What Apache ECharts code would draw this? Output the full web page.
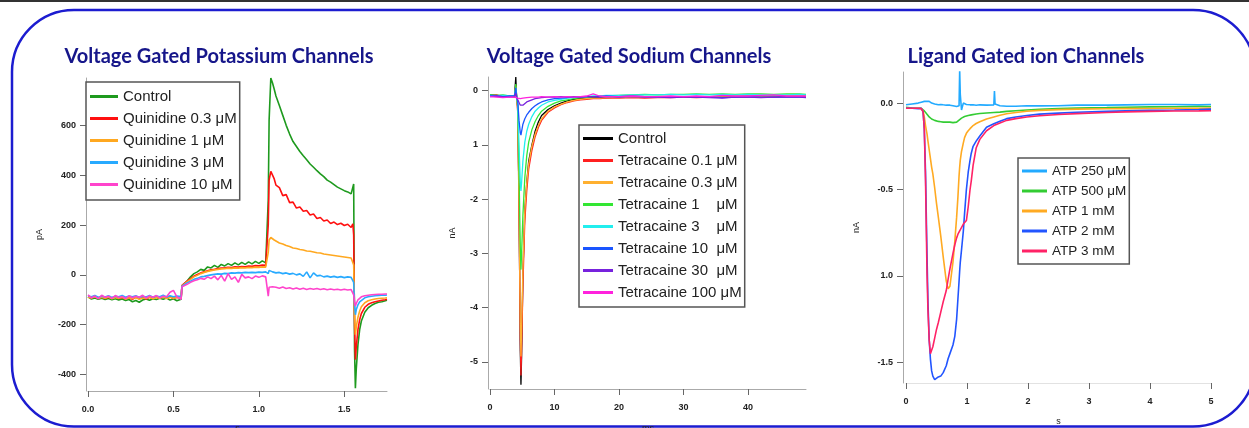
<!DOCTYPE html>
<html><head><meta charset="utf-8">
<script src="https://cdn.jsdelivr.net/npm/echarts@6/dist/echarts.min.js"></script>
<style>html,body{margin:0;padding:0;background:#fff}#c{width:1249px;height:428px}</style>
</head><body><div id="c"></div>
<script>
// ---------- Panel 1: Voltage gated potassium channels (pA vs s) ----------
const kTime = [0,0.02,0.04,0.06,0.08,0.10,0.12,0.14,0.16,0.18,0.20,0.22,0.24,0.26,0.28,0.30,0.32,0.34,0.36,0.38,0.40,0.42,0.44,0.46,0.48,0.50,0.52,0.545,
  0.55,0.56,0.58,0.60,0.62,0.64,0.66,0.68,0.70,0.72,0.74,0.76,0.78,0.80,0.82,0.84,0.86,0.88,0.90,0.92,0.94,0.96,0.98,1.00,1.02,1.04,1.05,
  1.055,1.06,1.07,1.08,1.09,1.10,1.12,1.14,1.16,1.18,1.20,1.22,1.24,1.26,1.28,1.30,1.32,1.34,1.36,1.38,1.40,1.42,1.44,1.46,1.48,1.50,1.52,1.54,1.55,
  1.555,1.56,1.565,1.57,1.58,1.59,1.60,1.62,1.64,1.66,1.68,1.70,1.72,1.74,1.75];
const kControl = [-88,-97,-93,-98,-94,-99,-95,-100,-96,-101,-97,-103,-99,-108,-103,-110,-101,-97,-102,-96,-99,-94,-98,-93,-101,-96,-104,-98,
  -45,-38,-25,-8,5,12,22,18,32,28,38,30,42,36,45,38,48,40,50,42,52,44,54,46,56,48,52,
  300,620,790,770,745,718,680,640,600,565,535,515,495,478,462,445,432,418,405,394,380,372,362,352,345,338,333,325,320,
  365,-300,-455,-380,-280,-220,-185,-150,-132,-122,-115,-110,-108,-104,-102];
const kQ03 = [-88,-92,-86,-94,-89,-95,-90,-93,-87,-95,-91,-96,-92,-98,-90,-96,-92,-97,-90,-95,-89,-94,-88,-93,-87,-95,-90,-93,
  -42,-36,-25,-15,-5,2,8,12,16,20,22,25,27,28,30,29,32,31,33,32,35,34,37,36,39,38,40,
  200,380,415,400,385,360,350,318,322,290,292,268,272,255,258,240,244,226,230,216,220,206,212,202,207,198,203,190,205,
  160,-200,-340,-290,-220,-180,-155,-130,-118,-112,-108,-105,-102,-100,-98];
const kQ1 = [-90,-93,-88,-95,-90,-94,-89,-96,-91,-94,-89,-97,-92,-96,-91,-98,-93,-95,-90,-96,-91,-94,-89,-95,-90,-94,-91,-92,
  -44,-38,-28,-18,-8,-2,5,10,14,17,20,22,24,25,27,26,28,27,29,28,30,29,31,30,32,31,33,
  90,140,150,145,140,134,128,124,118,114,108,106,102,100,96,95,92,89,88,84,82,80,78,76,74,72,70,68,67,
  40,-150,-240,-210,-170,-145,-128,-112,-104,-100,-97,-95,-94,-93,-92];
const kQ3 = [-85,-88,-83,-90,-86,-89,-84,-91,-86,-88,-83,-90,-85,-88,-84,-91,-86,-89,-83,-90,-85,-88,-82,-89,-84,-88,-85,-87,
  -45,-42,-32,-25,-18,-14,-8,-6,-3,0,2,4,3,6,5,8,7,9,8,10,9,10,9,11,10,12,10,
  5,18,15,12,14,8,10,5,8,3,6,0,4,-6,12,-12,8,-4,-2,-8,-5,-9,-6,-10,-7,-11,-8,-10,-9,
  -30,-120,-160,-140,-120,-108,-100,-92,-88,-86,-84,-83,-82,-82,-81];
const kQ10 = [-80,-92,-85,-95,-82,-90,-86,-94,-83,-91,-87,-95,-84,-92,-86,-90,-82,-93,-85,-90,-83,-92,-86,-88,-70,-62,-88,-98,
  -48,-45,-38,-30,-24,-20,-14,-18,-8,-15,-5,-20,-2,-25,5,-18,-8,-30,2,-12,-8,-15,-5,-10,-4,-8,-6,
  -85,-50,-55,-48,-56,-50,-54,-49,-55,-52,-57,-53,-58,-54,-59,-55,-58,-55,-59,-56,-60,-57,-60,-58,-61,-58,-61,-59,-60,
  -80,-110,-125,-115,-100,-92,-88,-84,-82,-80,-79,-78,-78,-77,-77];
const kNames = ['Control','Quinidine 0.3 μM','Quinidine 1 μM','Quinidine 3 μM','Quinidine 10 μM'];
const kXTicks = [0,0.5,1,1.5];
const kXTickLabels = ['0.0','0.5','1.0','1.5'];
const kYTicks = [-400,-200,0,200,400,600];
const kYTickLabels = ['-400','-200','0','200','400','600'];

// ---------- Panel 2: Voltage gated sodium channels (nA vs ms) ----------
const naTime = [0,1,2,3,3.8,4.0,4.1,4.3,4.5,4.7,4.8,4.9,5.1,5.4,5.7,6.0,6.5,7.0,7.5,8.0,9,10,11,12,13,14,15,16,17,18,20,22,24,26,28,30,32,34,36,38,40,42,44,46,48,49];
const naControl = [-0.08,-0.09,-0.1,-0.1,-0.1,0.25,-0.05,-0.3,-2.0,-4.8,-5.42,-4.9,-3.4,-2.2,-1.7,-1.3,-1.0,-0.75,-0.58,-0.46,-0.35,-0.28,-0.23,-0.19,-0.16,-0.15,-0.14,-0.13,-0.13,-0.13,-0.12,-0.12,-0.12,-0.12,-0.11,-0.11,-0.12,-0.11,-0.11,-0.11,-0.1,-0.11,-0.1,-0.1,-0.1,-0.1];
const naT01 = [-0.1,-0.08,-0.12,-0.1,-0.12,0.1,-0.1,-0.4,-2.2,-4.6,-5.25,-4.8,-3.6,-2.4,-1.85,-1.45,-1.1,-0.85,-0.68,-0.55,-0.4,-0.32,-0.26,-0.22,-0.19,-0.17,-0.16,-0.15,-0.15,-0.14,-0.14,-0.13,-0.14,-0.13,-0.13,-0.12,-0.13,-0.12,-0.12,-0.12,-0.12,-0.11,-0.12,-0.11,-0.11,-0.11];
const naT03 = [-0.1,-0.1,-0.11,-0.1,-0.11,0.08,-0.08,-0.35,-2.0,-4.3,-4.9,-4.4,-3.3,-2.2,-1.7,-1.35,-1.02,-0.8,-0.64,-0.52,-0.38,-0.3,-0.25,-0.21,-0.18,-0.16,-0.15,-0.14,-0.14,-0.13,-0.13,-0.12,-0.12,-0.12,-0.11,-0.11,-0.11,-0.11,-0.1,-0.1,-0.1,-0.1,-0.1,-0.09,-0.09,-0.09];
const naT1 = [-0.08,-0.09,-0.08,-0.1,-0.09,0.12,-0.06,-0.3,-1.5,-2.9,-3.3,-3.0,-2.3,-1.6,-1.2,-0.95,-0.72,-0.57,-0.46,-0.38,-0.29,-0.23,-0.19,-0.17,-0.15,-0.13,-0.12,-0.11,-0.1,-0.1,-0.09,-0.08,-0.07,-0.08,-0.07,-0.07,-0.06,-0.07,-0.06,-0.07,-0.06,-0.06,-0.07,-0.06,-0.06,-0.07];
const naT3 = [-0.09,-0.1,-0.09,-0.1,-0.1,0.05,-0.08,-0.25,-1.0,-1.7,-1.85,-1.7,-1.3,-0.95,-0.75,-0.62,-0.48,-0.38,-0.32,-0.27,-0.21,-0.18,-0.16,-0.14,-0.13,-0.12,-0.11,-0.1,-0.1,-0.09,-0.09,-0.08,-0.08,-0.08,-0.07,-0.08,-0.07,-0.08,-0.07,-0.08,-0.07,-0.08,-0.08,-0.08,-0.07,-0.08];
const naT10 = [-0.1,-0.1,-0.11,-0.1,-0.1,0.05,-0.1,-0.2,-0.55,-0.78,-0.82,-0.75,-0.62,-0.52,-0.45,-0.4,-0.33,-0.28,-0.24,-0.21,-0.17,-0.15,-0.14,-0.13,-0.12,-0.12,-0.11,-0.11,-0.11,-0.1,-0.11,-0.1,-0.11,-0.12,-0.11,-0.11,-0.12,-0.11,-0.13,-0.12,-0.11,-0.12,-0.12,-0.12,-0.12,-0.12];
const naT30 = [-0.11,-0.1,-0.11,-0.12,-0.11,-0.05,-0.12,-0.15,-0.22,-0.27,-0.28,-0.28,-0.27,-0.24,-0.21,-0.19,-0.17,-0.15,-0.14,-0.13,-0.12,-0.12,-0.11,-0.12,-0.11,-0.12,-0.11,-0.11,-0.12,-0.11,-0.12,-0.11,-0.12,-0.12,-0.13,-0.12,-0.12,-0.13,-0.14,-0.12,-0.12,-0.13,-0.12,-0.12,-0.12,-0.13];
const naT100 = [-0.11,-0.12,-0.13,-0.12,-0.12,-0.1,-0.12,-0.14,-0.15,-0.15,-0.15,-0.14,-0.14,-0.13,-0.13,-0.12,-0.12,-0.12,-0.12,-0.11,-0.12,-0.11,-0.12,-0.11,-0.12,-0.11,-0.1,-0.06,-0.1,-0.11,-0.11,-0.1,-0.11,-0.11,-0.1,-0.11,-0.1,-0.11,-0.09,-0.1,-0.1,-0.09,-0.08,-0.1,-0.1,-0.1];
const naNames = ['Control','Tetracaine 0.1 μM','Tetracaine 0.3 μM','Tetracaine 1    μM','Tetracaine 3    μM','Tetracaine 10  μM','Tetracaine 30  μM','Tetracaine 100 μM'];
const naXTicks = [0,10,20,30,40];
const naXTickLabels = ['0','10','20','30','40'];
const naYTicks = [0,-1,-2,-3,-4,-5];
const naYTickLabels = ['0','1','-2','-3','-4','-5'];

// ---------- Panel 3: Ligand gated ion channels (nA vs s) ----------
const lgTime = [0,0.1,0.2,0.25,0.28,0.3,0.32,0.345,0.36,0.38,0.4,0.42,0.44,0.47,0.5,0.53,0.57,0.61,0.66,0.69,0.72,0.77,0.8,0.83,0.85,0.87,0.88,0.89,0.91,0.94,0.96,0.99,1.02,1.05,1.07,1.1,1.15,1.21,1.32,1.44,1.45,1.46,1.54,1.65,1.8,1.98,2.19,2.5,2.8,3.29,3.6,4.0,4.4,4.8,5.0];
const lgATP250 = [-0.01,-0.005,0,0.005,0.01,0.01,0.008,0.01,0.008,0.01,0.005,0,-0.005,-0.005,-0.008,-0.01,-0.008,-0.01,-0.012,-0.01,-0.012,-0.015,-0.018,-0.02,-0.02,-0.015,0.19,0.05,-0.04,0,-0.005,-0.008,-0.005,-0.01,-0.008,-0.01,-0.012,-0.01,-0.012,-0.01,0.07,-0.005,-0.015,-0.018,-0.018,-0.015,-0.016,-0.015,-0.012,-0.012,-0.01,-0.008,-0.008,-0.01,-0.008];
const lgATP500 = [-0.025,-0.028,-0.03,-0.03,-0.035,-0.045,-0.055,-0.065,-0.072,-0.08,-0.087,-0.092,-0.096,-0.1,-0.104,-0.106,-0.108,-0.11,-0.11,-0.112,-0.11,-0.113,-0.112,-0.11,-0.104,-0.098,-0.095,-0.092,-0.087,-0.082,-0.078,-0.075,-0.072,-0.07,-0.068,-0.066,-0.063,-0.06,-0.057,-0.054,-0.054,-0.053,-0.052,-0.048,-0.044,-0.04,-0.036,-0.032,-0.029,-0.026,-0.024,-0.022,-0.021,-0.02,-0.02];
const lgATP1m = [-0.03,-0.03,-0.03,-0.032,-0.045,-0.08,-0.13,-0.18,-0.22,-0.27,-0.32,-0.37,-0.41,-0.49,-0.58,-0.66,-0.77,-0.89,-1.03,-1.075,-1.06,-0.92,-0.8,-0.66,-0.55,-0.42,-0.37,-0.33,-0.28,-0.23,-0.2,-0.175,-0.16,-0.148,-0.14,-0.13,-0.118,-0.108,-0.092,-0.08,-0.079,-0.078,-0.07,-0.062,-0.054,-0.047,-0.042,-0.038,-0.035,-0.033,-0.032,-0.031,-0.03,-0.03,-0.029];
const lgATP2m = [-0.03,-0.03,-0.032,-0.03,-0.05,-0.15,-0.4,-0.89,-1.15,-1.37,-1.48,-1.55,-1.58,-1.6,-1.6,-1.585,-1.58,-1.56,-1.52,-1.48,-1.45,-1.4,-1.35,-1.25,-1.14,-1.03,-0.97,-0.92,-0.85,-0.74,-0.64,-0.5,-0.4,-0.33,-0.29,-0.25,-0.22,-0.19,-0.14,-0.12,-0.118,-0.117,-0.105,-0.09,-0.08,-0.072,-0.064,-0.058,-0.053,-0.048,-0.045,-0.042,-0.04,-0.037,-0.035];
const lgATP3m = [-0.03,-0.03,-0.03,-0.032,-0.05,-0.15,-0.45,-0.99,-1.2,-1.37,-1.45,-1.44,-1.41,-1.36,-1.31,-1.27,-1.21,-1.15,-1.085,-1.02,-0.96,-0.87,-0.82,-0.78,-0.76,-0.75,-0.74,-0.73,-0.72,-0.7,-0.69,-0.68,-0.6,-0.5,-0.45,-0.36,-0.26,-0.21,-0.16,-0.13,-0.128,-0.127,-0.115,-0.1,-0.09,-0.08,-0.073,-0.066,-0.061,-0.054,-0.051,-0.048,-0.046,-0.045,-0.044];
const lgNames = ['ATP 250 μM','ATP 500 μM','ATP 1 mM','ATP 2 mM','ATP 3 mM'];
const lgXTicks = [0,1,2,3,4,5];
const lgXTickLabels = ['0','1','2','3','4','5'];
const lgYTicks = [0,-0.5,-1,-1.5];
const lgYTickLabels = ['0.0','-0.5','1.0','-1.5'];

// ---------- styles ----------
const kColors = ['#1e9a1e','#ff1010','#ffa820','#28aaff','#ff44cc'];
const naColors = ['#000000','#ff2020','#ffb030','#33e633','#22eeee','#1a55ff','#7722dd','#ff22dd'];
const lgColors = ['#22aaff','#33cc33','#ffaa22','#2255ff','#ff2266'];
const TITLE_COLOR = '#16168a';

function zip(t, v) { return t.map((x, i) => [x, v[i]]); }
function tickFmt(vals, labels) {
  return function (v) { const i = vals.findIndex(a => Math.abs(a - v) < 1e-9); return i >= 0 ? labels[i] : ''; };
}
const LBL = { fontSize: 9, fontWeight: 'bold', color: '#222', fontFamily: 'Liberation Sans' };
const NAME = { fontSize: 9, color: '#222', fontFamily: 'Liberation Sans' };

function mkX(grid, min, max, ticks, labels, name, gap, lineColor) {
  return {
    type: 'value', gridIndex: grid, min: min, max: max,
    axisLine: { show: true, onZero: false, lineStyle: { color: lineColor, width: 1 } },
    axisTick: { show: true, length: 6, customValues: ticks, lineStyle: { color: '#666' } },
    axisLabel: Object.assign({ customValues: ticks, margin: 14, formatter: tickFmt(ticks, labels) }, LBL),
    splitLine: { show: false },
    name: name, nameLocation: 'middle', nameGap: gap, nameTextStyle: NAME
  };
}
function mkY(grid, min, max, ticks, labels, name, gap, offset) {
  return {
    type: 'value', gridIndex: grid, min: min, max: max, offset: offset,
    axisLine: { show: true, onZero: false, lineStyle: { color: '#aaa', width: 1 } },
    axisTick: { show: true, length: 6, customValues: ticks, lineStyle: { color: '#666' } },
    axisLabel: Object.assign({ customValues: ticks, margin: 10, formatter: tickFmt(ticks, labels) }, LBL),
    splitLine: { show: false },
    name: name, nameLocation: 'middle', nameGap: gap, nameRotate: 90, nameTextStyle: NAME
  };
}
function mkSeries(prefix, grid, time, arrays, names, colors, width) {
  return arrays.map((arr, i) => ({
    type: 'line', name: prefix + '|' + names[i], xAxisIndex: grid, yAxisIndex: grid,
    data: zip(time, arr), showSymbol: false, symbol: 'none', silent: true,
    itemStyle: { color: colors[i] }, lineStyle: { color: colors[i], width: width }
  }));
}
function mkLegend(prefix, names, left, top, itemWidth, itemGap, fontSize, padding) {
  return {
    data: names.map(n => prefix + '|' + n), orient: 'vertical', left: left, top: top,
    icon: 'rect', itemWidth: itemWidth, itemHeight: 3, itemGap: itemGap, padding: padding,
    borderColor: '#555', borderWidth: 1.5, backgroundColor: '#fff', selectedMode: false,
    formatter: n => n.split('|')[1],
    textStyle: { fontSize: fontSize, fontFamily: 'Liberation Sans', color: '#222' }
  };
}

const series = []
  .concat(mkSeries('K', 0, kTime, [kControl, kQ03, kQ1, kQ3, kQ10], kNames, kColors, 1.6))
  .concat(mkSeries('Na', 1, naTime, [naControl, naT01, naT03, naT1, naT3, naT10, naT30, naT100], naNames, naColors, 1.3))
  .concat(mkSeries('L', 2, lgTime, [lgATP250, lgATP500, lgATP1m, lgATP2m, lgATP3m], lgNames, lgColors, 1.6));

const titleFont = 'bold 20px Lato';
const GRID_COMMON = { containLabel: false, outerBoundsMode: 'none' };
const option = {
  animation: false,
  backgroundColor: '#fff',
  grid: [
    Object.assign({ left: 88, top: 78, width: 299, height: 313 }, GRID_COMMON),
    Object.assign({ left: 490, top: 77, width: 316, height: 312 }, GRID_COMMON),
    Object.assign({ left: 906, top: 72, width: 305, height: 311 }, GRID_COMMON)
  ],
  xAxis: [
    mkX(0, 0, 1.75, kXTicks, kXTickLabels, 's', 33, '#aaa'),
    mkX(1, 0, 49, naXTicks, naXTickLabels, 'ms', 35, '#aaa'),
    mkX(2, 0, 5, lgXTicks, lgXTickLabels, 's', 34, '#e2e2e2')
  ],
  yAxis: [
    mkY(0, -466, 790, kYTicks, kYTickLabels, 'pA', 42, 2),
    mkY(1, -5.5, 0.25, naYTicks, naYTickLabels, 'nA', 31, 2),
    mkY(2, -1.62, 0.18, lgYTicks, lgYTickLabels, 'nA', 42, 3)
  ],
  legend: [
    mkLegend('K', kNames, 86, 82, 28, 7, 15, [7, 3, 8, 4]),
    mkLegend('Na', naNames, 579, 125, 30, 7, 15, [6, 3, 7, 4]),
    mkLegend('L', lgNames, 1018, 158, 25, 6, 13.5, [6, 3, 6, 4])
  ],
  graphic: [
    { type: 'line', shape: { x1: 0, y1: 1, x2: 1249, y2: 1 }, style: { stroke: '#333', lineWidth: 2 }, silent: true },
    { type: 'rect', shape: { x: 12, y: 10, width: 1243, height: 416.5, r: 62 }, style: { fill: 'transparent', stroke: '#1c1cd0', lineWidth: 2.5 }, silent: true },
    { type: 'text', x: 219, y: 57, silent: true, style: { text: 'Voltage Gated Potassium Channels', font: titleFont, fill: TITLE_COLOR, align: 'center', verticalAlign: 'middle', textAlign: 'center', textVerticalAlign: 'middle' } },
    { type: 'text', x: 629, y: 57, silent: true, style: { text: 'Voltage Gated Sodium Channels', font: titleFont, fill: TITLE_COLOR, align: 'center', verticalAlign: 'middle', textAlign: 'center', textVerticalAlign: 'middle' } },
    { type: 'text', x: 1026, y: 57, silent: true, style: { text: 'Ligand Gated ion Channels', font: titleFont, fill: TITLE_COLOR, align: 'center', verticalAlign: 'middle', textAlign: 'center', textVerticalAlign: 'middle' } }
  ],
  series: series
};
const chart = echarts.init(document.getElementById('c'));
chart.setOption(option);
</script>
</body></html>
